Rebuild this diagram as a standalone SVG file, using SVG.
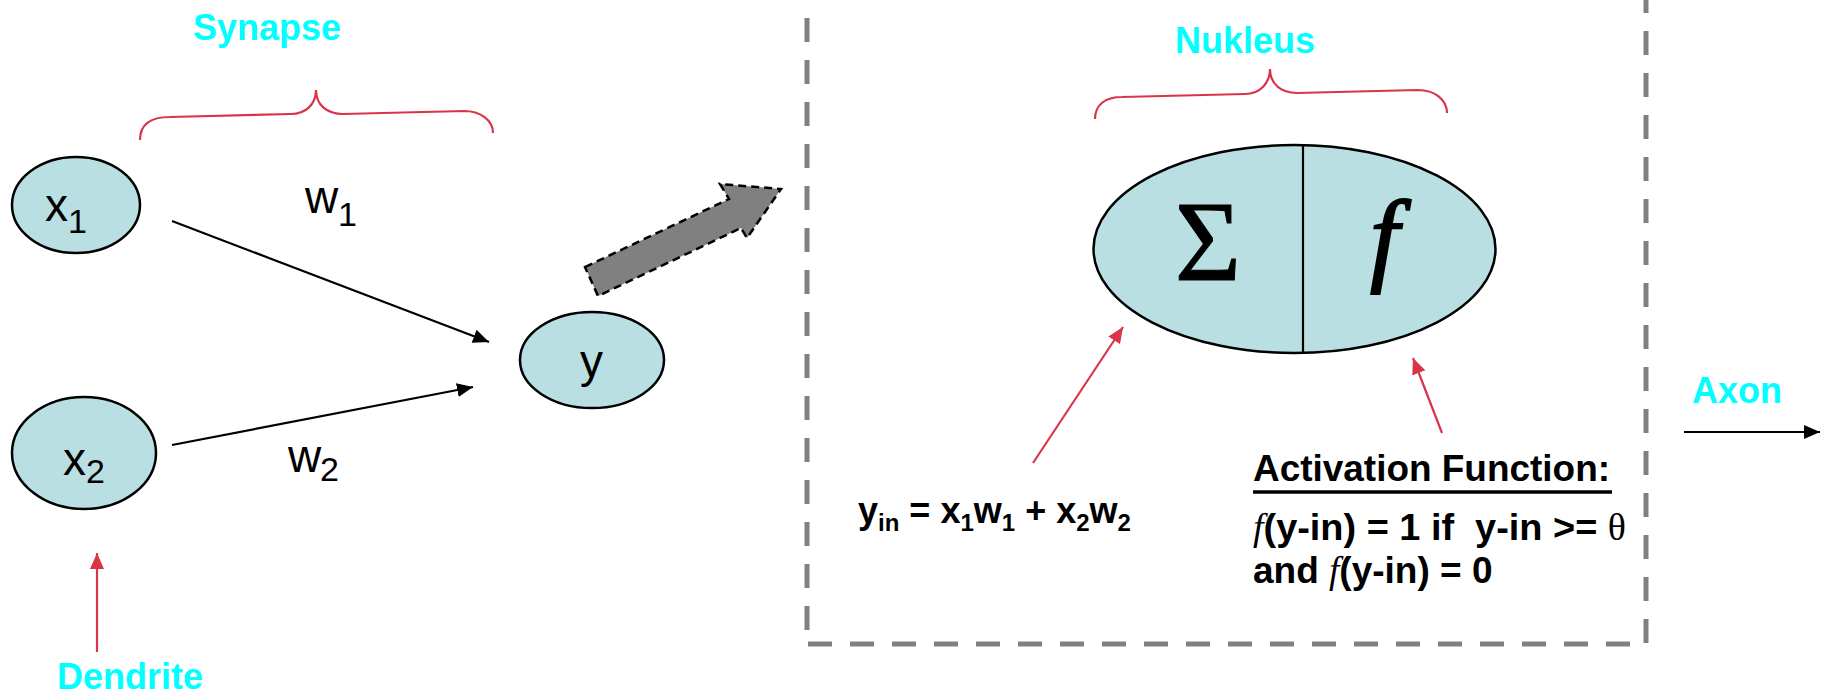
<svg xmlns="http://www.w3.org/2000/svg" width="1822" height="694" viewBox="0 0 1822 694">
<style>
.node{fill:#BADFE2;stroke:#000;stroke-width:2.5}
.lbl{font-family:"Liberation Sans",Arial,sans-serif;fill:#000}
.cy{font-family:"Liberation Sans",Arial,sans-serif;font-weight:bold;fill:#00FFFF;font-size:36px}
.brace{fill:none;stroke:#DA3448;stroke-width:2.2}
.blk{stroke:#000;stroke-width:2.2;fill:none}
.red{stroke:#DA3448;stroke-width:2.2;fill:none}
.box{stroke:#808080;stroke-width:5;stroke-dasharray:24 18;fill:none}
.bold{font-family:"Liberation Sans",Arial,sans-serif;font-weight:bold;fill:#000}
.ser{font-family:"Liberation Serif","Times New Roman",serif}
</style>
<defs>
<marker id="ah" markerUnits="userSpaceOnUse" markerWidth="16" markerHeight="14" refX="16" refY="7" orient="auto">
<path d="M0,0 L16,7 L0,14 Z" fill="#000"/>
</marker>
<marker id="ahr" markerUnits="userSpaceOnUse" markerWidth="16" markerHeight="14" refX="16" refY="7" orient="auto">
<path d="M0,0 L16,7 L0,14 Z" fill="#DA3448"/>
</marker>
</defs>

<g id="frame">
<line class="box" x1="807" y1="-24" x2="807" y2="644"/>
<line class="box" x1="1646" y1="-11" x2="1646" y2="644"/>
<line class="box" x1="808" y1="644" x2="1640" y2="644"/>
</g>

<g id="synapse">
<path class="brace" d="M140,140 C140,125 150,117 170,117 L291,114 C305,114 316,105 316,90 C316,105 327,114 343,114 L464,111 C480,111 493,120 493,133"/>
<text class="cy" x="193" y="40" font-size="37">Synapse</text>
</g>

<g id="nukleus-label">
<path class="brace" d="M1095,119 C1095,105 1105,97 1122,97 L1245,94 C1260,94 1270,83 1270,69 C1270,83 1280,93 1297,93 L1418,90 C1435,90 1447,100 1447,113"/>
<text class="cy" x="1175" y="53">Nukleus</text>
</g>

<g id="x1">
<ellipse class="node" cx="76" cy="205" rx="64" ry="48"/>
<text class="lbl" font-size="46" x="45" y="221">x<tspan font-size="34" x="68" y="233">1</tspan></text>
</g>

<g id="x2">
<ellipse class="node" cx="84" cy="453" rx="72" ry="56"/>
<text class="lbl" font-size="46" x="63" y="475">x<tspan font-size="34" x="86" y="483">2</tspan></text>
</g>

<g id="y">
<ellipse class="node" cx="592" cy="360" rx="72" ry="48"/>
<text class="lbl" font-size="46" x="580" y="377">y</text>
</g>

<g id="neuron">
<ellipse class="node" cx="1294.5" cy="249" rx="201" ry="104"/>
<line x1="1303" y1="145" x2="1303" y2="353" stroke="#000" stroke-width="2.2"/>
<text class="ser" font-size="114" x="1208" y="280" text-anchor="middle" stroke="#000" stroke-width="1">Σ</text>
<text class="ser" font-size="104" font-style="italic" x="1370" y="272" stroke="#000" stroke-width="2">f</text>
</g>

<g id="big-arrow">
<polygon points="585,267 729,199 720,184 781,189 747,238 741,228 598,296" fill="#808080" stroke="#000" stroke-width="2.5" stroke-dasharray="8 5"/>
</g>

<g id="dendrite">
<text class="cy" x="57" y="689">Dendrite</text>
</g>

<g id="axon">
<text class="cy" x="1692" y="403">Axon</text>
</g>

<g id="weights">
<text class="lbl" font-size="46" x="305" y="213">w<tspan font-size="34" x="338" y="226">1</tspan></text>
<text class="lbl" font-size="46" x="288" y="472">w<tspan font-size="34" x="320" y="481">2</tspan></text>
</g>

<g id="sum-formula">
<text class="bold" font-size="36" x="858" y="523">y<tspan font-size="24" dy="8">in</tspan><tspan dy="-8"> = x</tspan><tspan font-size="24" dy="8">1</tspan><tspan dy="-8">w</tspan><tspan font-size="24" dy="8">1</tspan><tspan dy="-8"> + x</tspan><tspan font-size="24" dy="8">2</tspan><tspan dy="-8">w</tspan><tspan font-size="24" dy="8">2</tspan></text>
</g>

<g id="activation">
<text class="bold" font-size="36" x="1253" y="481" textLength="357" lengthAdjust="spacingAndGlyphs">Activation Function:</text>
<line x1="1253" y1="492" x2="1612" y2="492" stroke="#000" stroke-width="3.5"/>
<text class="bold" font-size="37" x="1253" y="540" textLength="373" lengthAdjust="spacingAndGlyphs"><tspan class="ser" font-style="italic" font-weight="normal">f</tspan>(y-in) = 1 if &#160;y-in &gt;= <tspan class="ser" font-weight="normal">θ</tspan></text>
<text class="bold" font-size="37" x="1253" y="583">and <tspan class="ser" font-style="italic" font-weight="normal">f</tspan>(y-in) = 0</text>
</g>

<g id="connectors">
<line class="blk" x1="172" y1="221" x2="489" y2="342" marker-end="url(#ah)"/>
<line class="blk" x1="172" y1="445" x2="473" y2="387" marker-end="url(#ah)"/>
<line class="blk" x1="1684" y1="432" x2="1820" y2="432" marker-end="url(#ah)"/>
<line class="red" x1="97" y1="652" x2="97" y2="553" marker-end="url(#ahr)"/>
<line class="red" x1="1033" y1="463" x2="1123" y2="327" marker-end="url(#ahr)"/>
<line class="red" x1="1442" y1="433" x2="1413" y2="358" marker-end="url(#ahr)"/>
</g>
</svg>
